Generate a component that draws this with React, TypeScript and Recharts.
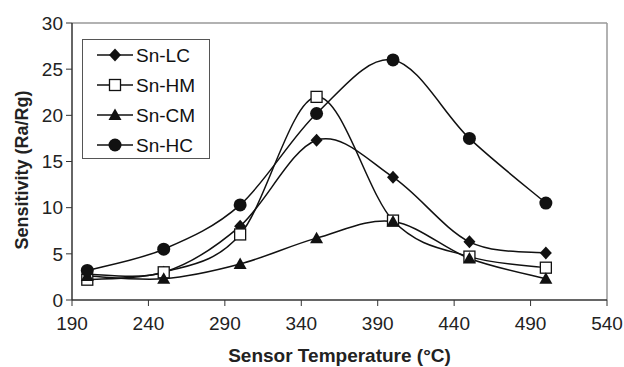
import React from 'react';
import { LineChart, Line, XAxis, YAxis, ReferenceLine } from 'recharts';

const temps = [200, 250, 300, 350, 400, 450, 500];
const snLC = [2.8, 3.0, 8.0, 17.3, 13.3, 6.3, 5.1];
const snHM = [2.2, 3.0, 7.1, 22.0, 8.6, 4.7, 3.5];
const snCM = [2.6, 2.3, 3.9, 6.7, 8.5, 4.5, 2.3];
const snHC = [3.2, 5.5, 10.3, 20.2, 26.0, 17.5, 10.5];
const xTicks = [190, 240, 290, 340, 390, 440, 490, 540];
const yTicks = [0, 5, 10, 15, 20, 25, 30];

const data = temps.map((t, i) => ({ t, lc: snLC[i], hm: snHM[i], cm: snCM[i], hc: snHC[i] }));

const FONT = 'Liberation Sans, Arial, sans-serif';

// Excel-like smoothing (Catmull-Rom style bezier)
function excelCurve(context: any) {
  const k = 1 / 6;
  let pts: [number, number][] = [];
  return {
    areaStart() {},
    areaEnd() {},
    lineStart() { pts = []; },
    lineEnd() {
      if (!pts.length) return;
      context.moveTo(pts[0][0], pts[0][1]);
      for (let i = 0; i < pts.length - 1; i++) {
        const p0 = pts[Math.max(i - 1, 0)];
        const p1 = pts[i];
        const p2 = pts[i + 1];
        const p3 = pts[Math.min(i + 2, pts.length - 1)];
        context.bezierCurveTo(
          p1[0] + k * (p2[0] - p0[0]), p1[1] + k * (p2[1] - p0[1]),
          p2[0] - k * (p3[0] - p1[0]), p2[1] - k * (p3[1] - p1[1]),
          p2[0], p2[1]
        );
      }
    },
    point(x: number, y: number) { pts.push([+x, +y]); },
  };
}

const Diamond = (cx: number, cy: number, key?: any) => (
  <path key={key} d={`M${cx},${cy - 6.5}L${cx + 6},${cy}L${cx},${cy + 6.5}L${cx - 6},${cy}Z`} fill="#111" />
);
const Square = (cx: number, cy: number, key?: any) => (
  <rect key={key} x={cx - 5.5} y={cy - 5.5} width={11} height={11} fill="#fff" stroke="#111" strokeWidth={1.3} />
);
const Triangle = (cx: number, cy: number, key?: any) => (
  <path key={key} d={`M${cx},${cy - 6.5}L${cx + 6.5},${cy + 5}L${cx - 6.5},${cy + 5}Z`} fill="#111" />
);
const Circle = (cx: number, cy: number, key?: any) => (
  <circle key={key} cx={cx} cy={cy} r={6.5} fill="#111" />
);

const mk = (fn: typeof Diamond) => (p: any) => fn(p.cx, p.cy, p.key);

const series = [
  { key: 'lc', name: 'Sn-LC', shape: Diamond },
  { key: 'hm', name: 'Sn-HM', shape: Square },
  { key: 'cm', name: 'Sn-CM', shape: Triangle },
  { key: 'hc', name: 'Sn-HC', shape: Circle },
];

const LegendBox = () => (
  <div style={{ position: 'absolute', left: 82, top: 39, border: '1.5px solid #555', background: '#fff', width: 128, height: 120, boxSizing: 'border-box' }}>
    <svg width={125} height={117} style={{ display: 'block' }}>
      {series.map((s, i) => {
        const y = 15 + i * 30;
        return (
          <g key={s.key}>
            <line x1={14} x2={50} y1={y} y2={y} stroke="#111" strokeWidth={1.5} />
            {s.shape(32, y)}
            <text x={53} y={y + 7} fontSize={19} fontFamily={FONT} fill="#111">{s.name}</text>
          </g>
        );
      })}
    </svg>
  </div>
);

const tickStyle = { fontSize: 19, fill: '#222', fontFamily: FONT };
const titleStyle = { fontSize: 18, fontWeight: 'bold', fill: '#222', fontFamily: FONT };

export default function App() {
  return (
    <div style={{ position: 'absolute', left: 0, top: 0, width: 624, height: 367, background: '#fff' }}>
      <LineChart width={624} height={367} data={data} margin={{ top: 23, right: 17, left: 0, bottom: 0 }}>
        <ReferenceLine y={30} stroke="#999" strokeWidth={1.5} />
        <ReferenceLine x={540} stroke="#999" strokeWidth={1.5} />
        <XAxis
          dataKey="t"
          type="number"
          domain={[190, 540]}
          ticks={xTicks}
          height={67}
          tickSize={6}
          tickMargin={11}
          axisLine={{ stroke: '#333', strokeWidth: 1.5 }}
          tickLine={{ stroke: '#333' }}
          tick={tickStyle}
          label={{ value: 'Sensor Temperature (°C)', position: 'insideBottom', offset: 5, style: { ...titleStyle, fontSize: 19 } }}
        />
        <YAxis
          type="number"
          domain={[0, 30]}
          ticks={yTicks}
          width={72}
          tickSize={6}
          tickMargin={3}
          axisLine={{ stroke: '#333', strokeWidth: 1.5 }}
          tickLine={{ stroke: '#333' }}
          tick={tickStyle}
          label={{ value: 'Sensitivity (Ra/Rg)', angle: -90, position: 'insideLeft', offset: 22, dy: 88, style: titleStyle }}
        />
        {series.map((s) => (
          <Line
            key={s.key}
            dataKey={s.key}
            name={s.name}
            type={excelCurve as any}
            stroke="#111"
            strokeWidth={1.5}
            dot={mk(s.shape)}
            activeDot={false}
            isAnimationActive={false}
          />
        ))}
      </LineChart>
      <LegendBox />
    </div>
  );
}
